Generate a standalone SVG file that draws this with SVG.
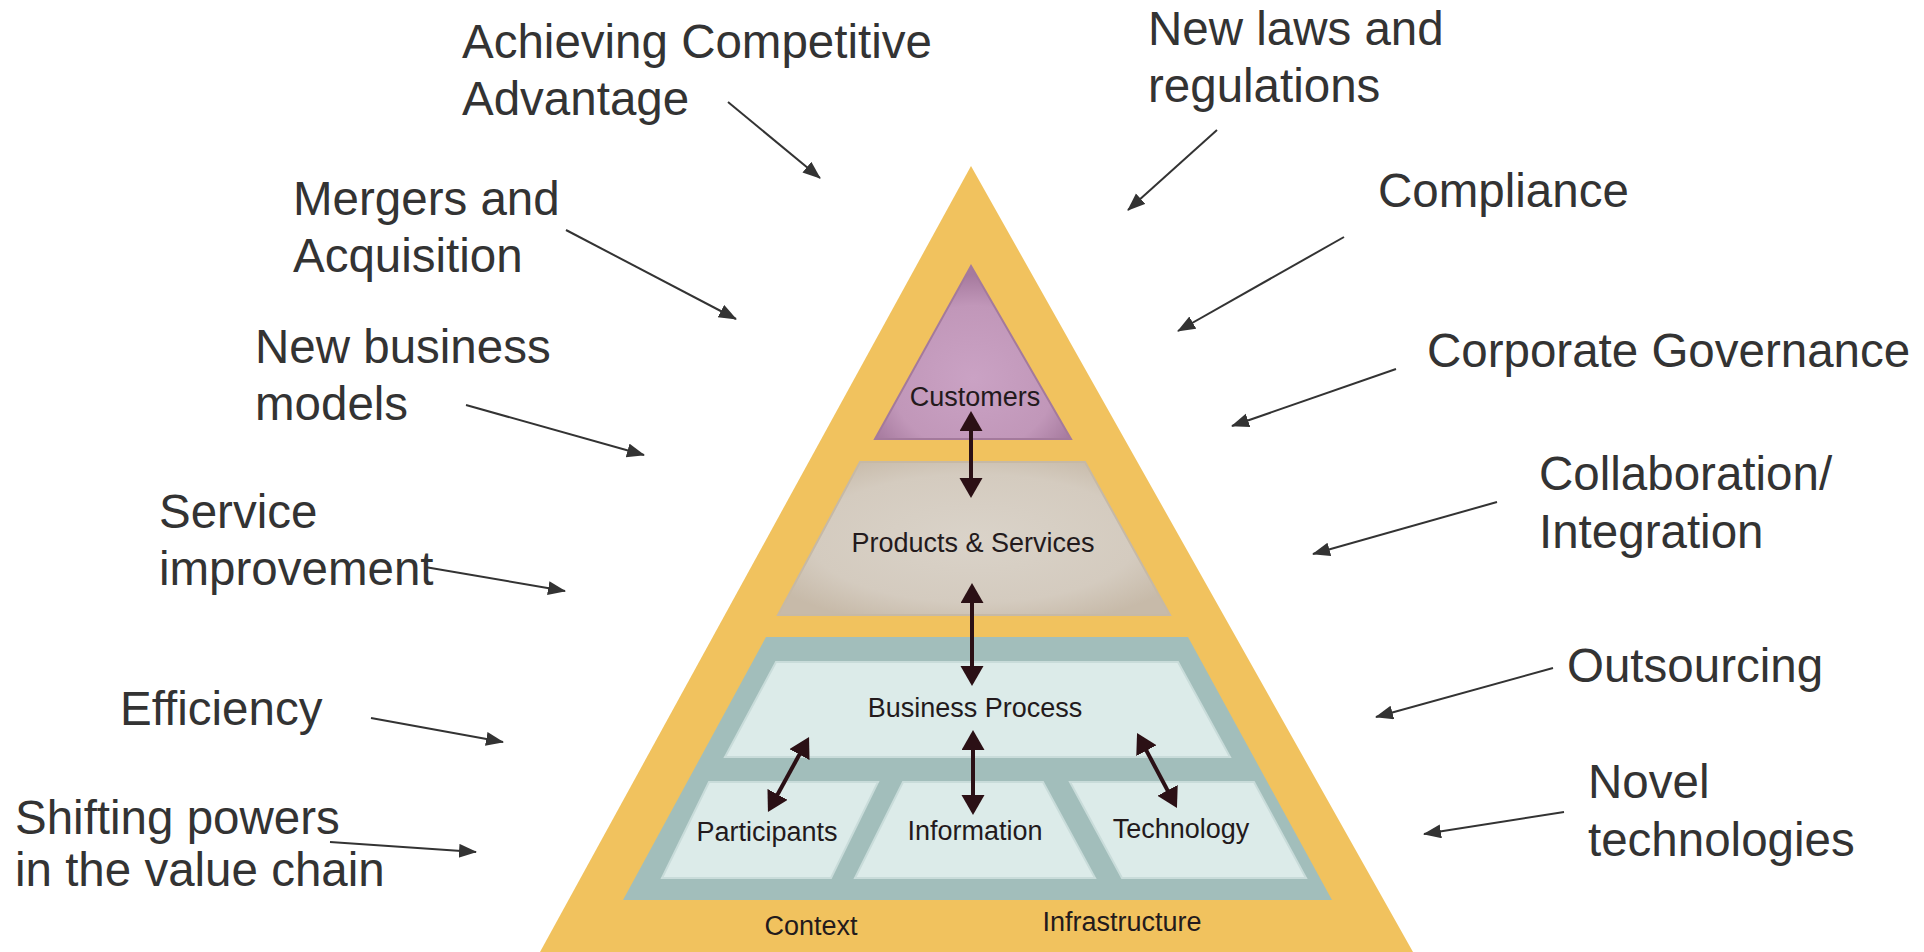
<svg xmlns="http://www.w3.org/2000/svg" width="1924" height="952" viewBox="0 0 1924 952">
  <style>
    .lbl { font-family: "Liberation Sans", Arial, sans-serif; font-size: 47.5px; fill: #333333; }
    .in { font-family: "Liberation Sans", Arial, sans-serif; font-size: 27px; fill: #231a1c; text-anchor: middle; }
    .ext { stroke: #333333; stroke-width: 2; fill: none; marker-end: url(#ah); }
    .int { stroke: #2b1015; stroke-width: 4; fill: none; marker-start: url(#ih); marker-end: url(#ih); }
    .panel { fill: #dcebe9; stroke: #c9dcda; stroke-width: 2; }
  </style>
  <defs>
    <marker id="ah" markerUnits="userSpaceOnUse" markerWidth="20" markerHeight="16" refX="17" refY="7" orient="auto">
      <path d="M0,0 L18,7 L0,14 Z" fill="#333333"/>
    </marker>
    <marker id="ih" markerUnits="userSpaceOnUse" markerWidth="22" markerHeight="24" refX="2" refY="11.5" orient="auto-start-reverse">
      <path d="M0,0 L20,11.5 L0,23 Z" fill="#2b1015"/>
    </marker>
    <radialGradient id="pinkG" cx="50%" cy="65%" r="60%">
      <stop offset="0" stop-color="#caa2c4"/>
      <stop offset="0.7" stop-color="#c197b9"/>
      <stop offset="1" stop-color="#a67a9e"/>
    </radialGradient>
    <radialGradient id="beigeG" cx="50%" cy="50%" r="60%">
      <stop offset="0" stop-color="#dad3c9"/>
      <stop offset="0.7" stop-color="#d4cbbf"/>
      <stop offset="1" stop-color="#c7baa9"/>
    </radialGradient>
  </defs>

  <rect x="0" y="0" width="1924" height="952" fill="#ffffff"/>

  <g id="pyramid">
    <polygon points="971,166 1413,952 540,952" fill="#f1c25e"/>
    <text class="in" x="811" y="935">Context</text>
    <text class="in" x="1122" y="931">Infrastructure</text>
  </g>

  <g id="customers">
    <polygon points="971,266 1071,439 875,439" fill="url(#pinkG)" stroke="#a47a9c" stroke-width="2"/>
    <text class="in" x="975" y="406">Customers</text>
  </g>

  <g id="products-services">
    <polygon points="860,462 1085,462 1170,615 778,615" fill="url(#beigeG)" stroke="#c6b9a6" stroke-width="2"/>
    <text class="in" x="973" y="552">Products &amp; Services</text>
  </g>

  <g id="business-layer">
    <polygon points="766,637 1188,637 1332,900 623,900" fill="#a2bebb"/>
  </g>

  <g id="business-process">
    <polygon class="panel" points="776,662 1178,662 1230,757 725,757"/>
    <text class="in" x="975" y="717">Business Process</text>
  </g>

  <g id="participants">
    <polygon class="panel" points="709,782 878,782 831,878 662,878"/>
    <text class="in" x="767" y="841">Participants</text>
  </g>

  <g id="information">
    <polygon class="panel" points="903,782 1043,782 1095,878 855,878"/>
    <text class="in" x="975" y="840">Information</text>
  </g>

  <g id="technology">
    <polygon class="panel" points="1070,782 1254,782 1306,878 1122,878"/>
    <text class="in" x="1181" y="838">Technology</text>
  </g>

  <g id="labels">
    <g id="lbl-competitive"><text class="lbl"><tspan x="462" y="58">Achieving Competitive</tspan><tspan x="462" y="115">Advantage</tspan></text></g>
    <g id="lbl-mergers"><text class="lbl"><tspan x="293" y="215">Mergers and</tspan><tspan x="293" y="272">Acquisition</tspan></text></g>
    <g id="lbl-business-models"><text class="lbl"><tspan x="255" y="363">New business</tspan><tspan x="255" y="420">models</tspan></text></g>
    <g id="lbl-service"><text class="lbl"><tspan x="159" y="528">Service</tspan><tspan x="159" y="585">improvement</tspan></text></g>
    <g id="lbl-efficiency"><text class="lbl" x="120" y="725">Efficiency</text></g>
    <g id="lbl-shifting"><text class="lbl"><tspan x="15" y="834">Shifting powers</tspan><tspan x="15" y="886">in the value chain</tspan></text></g>
    <g id="lbl-laws"><text class="lbl"><tspan x="1148" y="45">New laws and</tspan><tspan x="1148" y="102">regulations</tspan></text></g>
    <g id="lbl-compliance"><text class="lbl" x="1378" y="207">Compliance</text></g>
    <g id="lbl-governance"><text class="lbl" x="1427" y="367">Corporate Governance</text></g>
    <g id="lbl-collaboration"><text class="lbl"><tspan x="1539" y="490">Collaboration/</tspan><tspan x="1539" y="548">Integration</tspan></text></g>
    <g id="lbl-outsourcing"><text class="lbl" x="1567" y="682">Outsourcing</text></g>
    <g id="lbl-novel"><text class="lbl"><tspan x="1588" y="798">Novel</tspan><tspan x="1588" y="856">technologies</tspan></text></g>
  </g>

  <g id="connectors">
    <line class="ext" x1="728" y1="102" x2="820" y2="178"/>
    <line class="ext" x1="566" y1="230" x2="736" y2="319"/>
    <line class="ext" x1="466" y1="405" x2="644" y2="455"/>
    <line class="ext" x1="425" y1="567" x2="565" y2="591"/>
    <line class="ext" x1="371" y1="718" x2="503" y2="742"/>
    <line class="ext" x1="330" y1="842" x2="476" y2="852"/>
    <line class="ext" x1="1217" y1="130" x2="1128" y2="210"/>
    <line class="ext" x1="1344" y1="237" x2="1178" y2="331"/>
    <line class="ext" x1="1396" y1="369" x2="1232" y2="426"/>
    <line class="ext" x1="1497" y1="502" x2="1313" y2="554"/>
    <line class="ext" x1="1553" y1="668" x2="1376" y2="717"/>
    <line class="ext" x1="1564" y1="812" x2="1424" y2="834"/>

    <line class="int" x1="971" y1="429" x2="971" y2="480"/>
    <line class="int" x1="972" y1="601" x2="972" y2="668"/>
    <line class="int" x1="973" y1="748" x2="973" y2="797"/>
    <line class="int" x1="800.4" y1="752.8" x2="776.6" y2="796.2"/>
    <line class="int" x1="1145.5" y1="748.9" x2="1168.5" y2="792.1"/>
  </g>
</svg>
